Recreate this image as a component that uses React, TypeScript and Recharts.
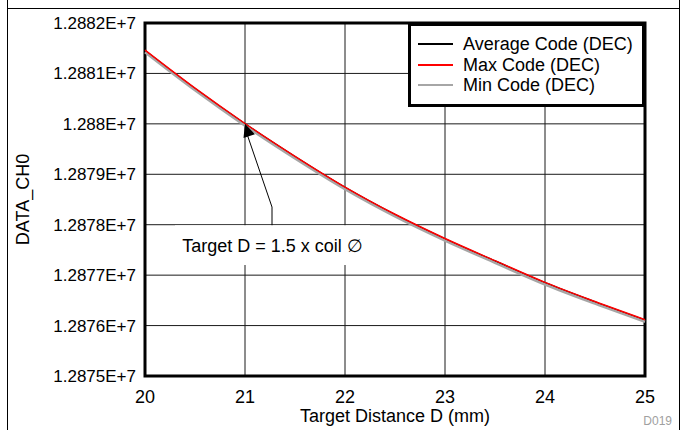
import React from 'react'
import {
  CartesianGrid,
  Legend,
  Line,
  LineChart,
  ReferenceArea,
  ReferenceDot,
  ReferenceLine,
  XAxis,
  YAxis,
} from 'recharts'

// target distance (mm)
const distances = [20, 20.5, 21, 21.5, 22, 22.5, 23, 23.5, 24, 24.5, 25]
// DATA_CH0 codes
const avgCode = [
  12881455, 12880700, 12880000, 12879350, 12878740, 12878200, 12877720, 12877280, 12876850,
  12876470, 12876110,
]
const maxCode = [
  12881462, 12880707, 12880007, 12879357, 12878747, 12878207, 12877727, 12877287, 12876857,
  12876477, 12876117,
]
const minCode = [
  12881420, 12880665, 12879965, 12879315, 12878705, 12878165, 12877685, 12877245, 12876815,
  12876435, 12876075,
]

const xTicks = [20, 21, 22, 23, 24, 25]
const yTicks = [12875000, 12876000, 12877000, 12878000, 12879000, 12880000, 12881000, 12882000]
const yTickLabels = [
  '1.2875E+7',
  '1.2876E+7',
  '1.2877E+7',
  '1.2878E+7',
  '1.2879E+7',
  '1.288E+7',
  '1.2881E+7',
  '1.2882E+7',
]

const series = [
  { key: 'avg', name: 'Average Code (DEC)', color: '#000000' },
  { key: 'max', name: 'Max Code (DEC)', color: '#ff0000' },
  { key: 'min', name: 'Min Code (DEC)', color: '#a6a6a6' },
]

const data = distances.map((d, i) => ({
  d,
  avg: avgCode[i],
  max: maxCode[i],
  min: minCode[i],
}))

const FONT = "'Liberation Sans', Arial, sans-serif"

function LegendBox() {
  return (
    <div
      style={{
        width: 237,
        height: 84,
        boxSizing: 'border-box',
        border: '3px solid #000',
        background: '#fff',
        paddingTop: 8,
        paddingLeft: 7,
        fontFamily: FONT,
        fontSize: 18,
        color: '#000',
      }}
    >
      {series.map((s) => (
        <div key={s.key} style={{ display: 'flex', alignItems: 'center', height: 20.5 }}>
          <div style={{ width: 35, height: 2, background: s.color, marginRight: 10 }} />
          <span style={{ lineHeight: '20px', whiteSpace: 'nowrap' }}>{s.name}</span>
        </div>
      ))}
    </div>
  )
}

function ArrowHead(props: any) {
  const { cx, cy } = props
  if (cx == null || cy == null) return null
  return <polygon points={`${cx},${cy} ${cx + 9.9},${cy + 10.4} ${cx - 1.5},${cy + 14.2}`} fill="#000" />
}

function YLabel(props: any) {
  const vb = props.viewBox || { x: 0, y: 0, height: 0 }
  const x = vb.x + 23
  const y = vb.y + vb.height / 2
  return (
    <text
      x={x}
      y={y}
      transform={`rotate(-90, ${x}, ${y})`}
      textAnchor="middle"
      dominantBaseline="central"
      fontFamily={FONT}
      fontSize={18}
      fill="#000"
    >
      DATA_CH0
    </text>
  )
}

export default function App() {
  return (
    <div
      style={{
        position: 'absolute',
        left: 0,
        top: 0,
        width: 682,
        height: 430,
        background: '#fff',
        overflow: 'hidden',
        fontFamily: FONT,
      }}
    >
      <div style={{ position: 'absolute', left: 7, top: 0, width: 1, height: 430, background: '#000' }} />
      <div style={{ position: 'absolute', left: 679, top: 0, width: 1, height: 430, background: '#000' }} />
      <div style={{ position: 'absolute', left: 7, top: 8, width: 673, height: 1, background: '#000' }} />
      <div
        style={{
          position: 'absolute',
          right: 10,
          top: 414,
          fontSize: 12,
          lineHeight: '14px',
          color: '#a0a0a0',
          fontFamily: FONT,
        }}
      >
        D019
      </div>
      <LineChart
        width={682}
        height={430}
        data={data}
        margin={{ top: 23, right: 37, left: 0, bottom: 0 }}
        style={{ position: 'absolute', left: 0, top: 0 }}
      >
        <CartesianGrid stroke="#1a1a1a" strokeWidth={1} />
        <XAxis
          dataKey="d"
          type="number"
          domain={[20, 25]}
          ticks={xTicks}
          height={54}
          tickLine={false}
          axisLine={false}
          tickSize={0}
          tickMargin={14}
          tick={{ fill: '#000', fontSize: 18, fontFamily: FONT }}
          label={{
            value: 'Target Distance D (mm)',
            position: 'insideBottom',
            offset: 8,
            fill: '#000',
            fontSize: 18,
            fontFamily: FONT,
          }}
        />
        <YAxis
          type="number"
          domain={[12875000, 12882000]}
          ticks={yTicks}
          width={145}
          tickLine={false}
          axisLine={false}
          tickSize={0}
          tickMargin={9}
          tickFormatter={(v) => yTickLabels[yTicks.indexOf(v)] ?? String(v)}
          tick={{ fill: '#000', fontSize: 17, fontFamily: FONT }}
          label={{ content: YLabel }}
        />
        <Legend
          layout="vertical"
          align="center"
          verticalAlign="middle"
          content={() => <LegendBox />}
          wrapperStyle={{ position: 'absolute', top: 23, left: 408, width: 237, height: 84 }}
        />
        <ReferenceArea
          x1={20.3}
          x2={22.25}
          y1={12877200}
          y2={12877990}
          fill="#fff"
          fillOpacity={1}
          stroke="none"
          label={{
            value: 'Target D = 1.5 x coil \u2205',
            position: 'center',
            fill: '#000',
            fontSize: 18,
            fontFamily: FONT,
          }}
        />
        <ReferenceLine
          segment={[
            { x: 21.27, y: 12877990 },
            { x: 21.27, y: 12878350 },
          ]}
          stroke="#000"
          strokeWidth={1}
        />
        <ReferenceLine
          segment={[
            { x: 21.27, y: 12878350 },
            { x: 21.02, y: 12879800 },
          ]}
          stroke="#000"
          strokeWidth={1}
        />
        <Line
          type="monotone"
          dataKey="avg"
          name={series[0].name}
          stroke={series[0].color}
          strokeWidth={1.5}
          dot={false}
          isAnimationActive={false}
        />
        <Line
          type="monotone"
          dataKey="min"
          name={series[2].name}
          stroke={series[2].color}
          strokeWidth={2.5}
          dot={false}
          isAnimationActive={false}
        />
        <Line
          type="monotone"
          dataKey="max"
          name={series[1].name}
          stroke={series[1].color}
          strokeWidth={1.5}
          dot={false}
          isAnimationActive={false}
        />
        <ReferenceDot x={21} y={12880000} shape={ArrowHead} />
        <ReferenceArea
          x1={20}
          x2={25}
          y1={12875000}
          y2={12882000}
          fill="none"
          stroke="#000"
          strokeWidth={3}
        />
      </LineChart>
    </div>
  )
}
